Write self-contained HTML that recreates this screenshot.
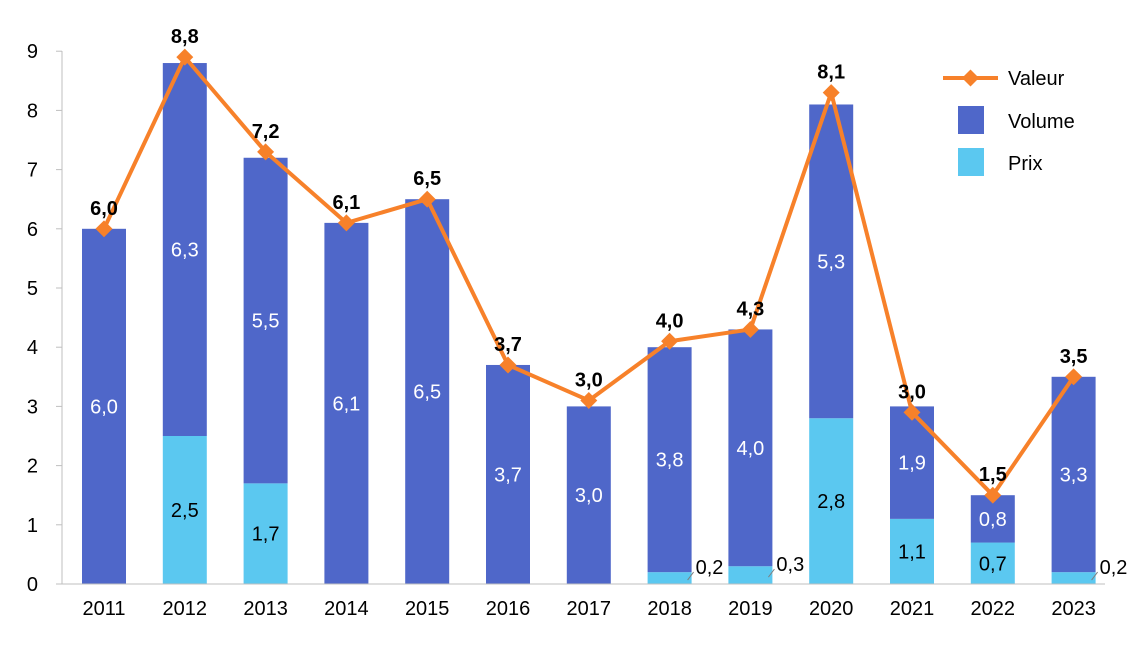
<!DOCTYPE html>
<html><head><meta charset="utf-8"><style>
body{margin:0;background:#fff}
svg text{font-family:"Liberation Sans",sans-serif}
</style></head><body>
<svg id="c" width="1144" height="644"></svg>
<script>
const years=["2011","2012","2013","2014","2015","2016","2017","2018","2019","2020","2021","2022","2023"];
const prix=[0,2.5,1.7,0,0,0,0,0.2,0.3,2.8,1.1,0.7,0.2];
const volume=[6.0,6.3,5.5,6.1,6.5,3.7,3.0,3.8,4.0,5.3,1.9,0.8,3.3];
const valeur=[6.0,8.9,7.3,6.1,6.5,3.7,3.1,4.1,4.3,8.3,2.9,1.5,3.5];
const valeurLabels=["6,0","8,8","7,2","6,1","6,5","3,7","3,0","4,0","4,3","8,1","3,0","1,5","3,5"];
const yTicks=[0,1,2,3,4,5,6,7,8,9];
const svg=document.getElementById('c');const NS="http://www.w3.org/2000/svg";
function el(t,a,txt){const e=document.createElementNS(NS,t);for(const k in a)e.setAttribute(k,a[k]);if(txt!=null)e.textContent=txt;svg.appendChild(e);return e;}
const y=v=>584-v*59.2, x=i=>104+i*80.8, bw=44;
const fmt=v=>v.toFixed(1).replace('.',',');
let e=el('line',{x1:62,y1:51,x2:62,y2:584,stroke:'#bfbfbf'});

yTicks.forEach(t=>{
 let l=el('line',{x1:56,x2:62,y1:y(t),y2:y(t),stroke:'#bfbfbf'});
 
 let tx=el('text',{x:38,y:y(t)+7,'font-size':20,'text-anchor':'end',fill:'#000'},t);
 
});
years.forEach((yr,i)=>{
 const cx=x(i);
 if(prix[i]>0){let r=el('rect',{x:cx-bw/2,y:y(prix[i]),width:bw,height:prix[i]*59.2,fill:'#5BC8F0'});
  }
 let r2=el('rect',{x:cx-bw/2,y:y(prix[i]+volume[i]),width:bw,height:volume[i]*59.2,fill:'#4F67C9'});
 
 let vl=el('text',{x:cx,y:y(prix[i]+volume[i]/2)+7,'font-size':20,'text-anchor':'middle',fill:'#fff'},fmt(volume[i]));
 
 if(prix[i]>=0.5){let pl=el('text',{x:cx,y:y(prix[i]/2)+7,'font-size':20,'text-anchor':'middle',fill:'#000'},fmt(prix[i]));
  }
 else if(prix[i]>0){let ll=el('line',{x1:cx+bw/2-4,y1:y(prix[i]/2)+2,x2:cx+bw/2+2,y2:y(prix[i]/2)-6,stroke:'#7f7f7f'});
  
  let pl=el('text',{x:cx+bw/2+4,y:y(prix[i]/2)-4,'font-size':20,fill:'#000'},fmt(prix[i]));
  }
 let xl=el('text',{x:cx,y:615,'font-size':20,'text-anchor':'middle',fill:'#000'},yr);
 
});
e=el('line',{x1:62,y1:584,x2:1105,y2:584,stroke:'#bfbfbf'});

let pl=el('polyline',{points:valeur.map((v,i)=>x(i)+','+y(v)).join(' '),fill:'none',stroke:'#F7812A','stroke-width':4,'stroke-linejoin':'round'});

valeur.forEach((v,i)=>{
 let d=el('rect',{x:x(i)-6,y:y(v)-6,width:12,height:12,fill:'#F7812A',transform:`rotate(45 ${x(i)} ${y(v)})`});
 
 let t=el('text',{x:x(i),y:y(v)-14,'font-size':20,'font-weight':'bold','text-anchor':'middle',fill:'#000'},valeurLabels[i]);
 
});
e=el('line',{x1:943,y1:78,x2:998,y2:78,stroke:'#F7812A','stroke-width':4});

e=el('rect',{x:964.5,y:72,width:12,height:12,fill:'#F7812A',transform:'rotate(45 970.5 78)'});

e=el('text',{x:1008,y:85,'font-size':20},'Valeur');
e=el('rect',{x:958,y:106,width:26,height:28,fill:'#4F67C9'});
e=el('text',{x:1008,y:128,'font-size':20},'Volume');
e=el('rect',{x:958,y:148,width:26,height:28,fill:'#5BC8F0'});
e=el('text',{x:1008,y:170,'font-size':20},'Prix');
</script>
</body></html>
